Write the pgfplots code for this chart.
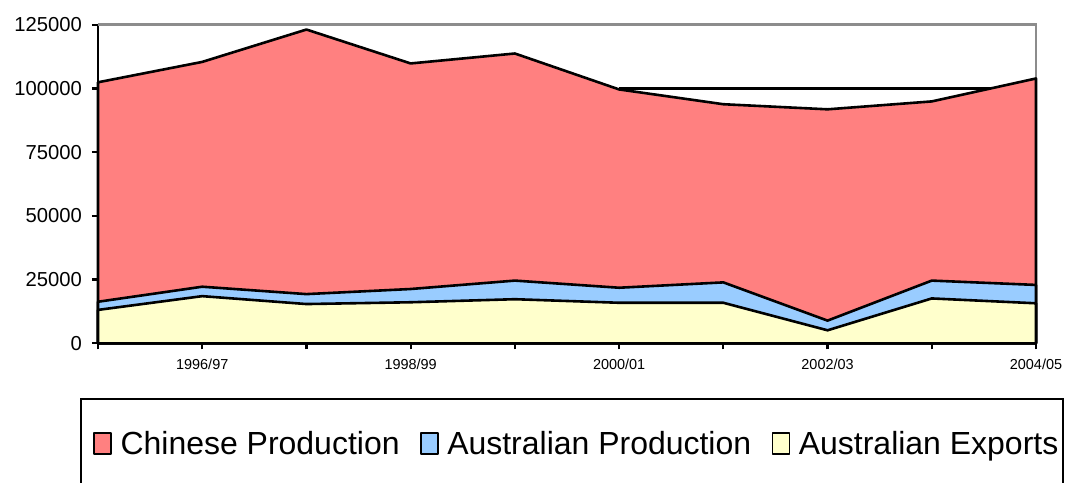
\documentclass[border=0pt]{standalone}
\usepackage{fontspec}
\setmainfont{Liberation Sans}
\usepackage{pgfplots}
\usetikzlibrary{calc}
\pgfplotsset{compat=1.18}
\definecolor{cred}{RGB}{255,128,128}
\definecolor{cblue}{RGB}{153,204,255}
\definecolor{cyel}{RGB}{255,255,204}
\definecolor{cgray}{RGB}{140,140,140}
\begin{document}
\begin{tikzpicture}
\begin{axis}[
  scale only axis, width=938bp, height=318.6bp,
  xmin=0, xmax=9, ymin=0, ymax=125000,
  clip=false,
  axis x line*=bottom, axis y line*=left,
  axis line style={black, line width=2.2bp, -},
  xtick={0,...,9},
  xticklabels={,1996/97,,1998/99,,2000/01,,2002/03,,2004/05},
  ytick={0,25000,50000,75000,100000,125000},
  scaled y ticks=false,
  /pgf/number format/assume math mode=true,
  yticklabel style={/pgf/number format/fixed, /pgf/number format/1000 sep={}, inner sep=0pt, xshift=-10bp, font=\fontsize{20.3}{24}\selectfont},
  xticklabel style={inner sep=0pt, yshift=-10bp, font=\fontsize{14.5}{17}\selectfont},
  tick align=outside, major tick length=6bp,
  tick style={black, line width=2.2bp},
  legend style={at={(-0.00506,-0.2772)}, anchor=north west, draw=none, fill=none, inner sep=0pt,
     nodes={inner sep=0pt}, cells={anchor=base west},
     font=\fontsize{32.1}{38}\selectfont,
     /tikz/every odd column/.append style={column sep=8.5bp},
     /tikz/every even column/.append style={column sep=20.5bp}},
  legend columns=3,
  legend image code/.code={\draw[#1, draw=black, line width=1.6bp] (0bp,1bp) rectangle (17bp,22bp);},
]
\coordinate (O) at (axis cs:0,0);
\draw[cgray, line width=2.5bp] (rel axis cs:0,1) -- (rel axis cs:1,1) -- (rel axis cs:1,0);
\addplot[black, line width=2.2bp, forget plot] coordinates {(5,100000) (9,100000)};
\addplot[fill=cred, draw=black, line width=2.6bp, line join=round] coordinates {
 (0,102400) (1,110400) (2,123100) (3,109800) (4,113700) (5,99600) (6,93800) (7,91800) (8,94900) (9,103900)} \closedcycle;
\addplot[fill=cblue, draw=black, line width=2.6bp, line join=round] coordinates {
 (0,16300) (1,22200) (2,19300) (3,21300) (4,24600) (5,21800) (6,23900) (7,8900) (8,24600) (9,22900)} \closedcycle;
\addplot[fill=cyel, draw=black, line width=2.6bp, line join=round] coordinates {
 (0,13100) (1,18500) (2,15400) (3,16100) (4,17300) (5,15900) (6,15900) (7,5100) (8,17600) (9,15700)} \closedcycle;
\legend{Chinese Production, Australian Production, Australian Exports}
\end{axis}
\draw[black, line width=2.2bp] ($(O)+(-17bp,-200bp)$) -- ++(0,144.3bp) -- ++(982bp,0) -- ++(0,-144.3bp);
\pgfresetboundingbox
\path[use as bounding box] ($(O)+(-98bp,-139.7bp)$) rectangle ++(1065bp,483bp);
\end{tikzpicture}
\end{document}
